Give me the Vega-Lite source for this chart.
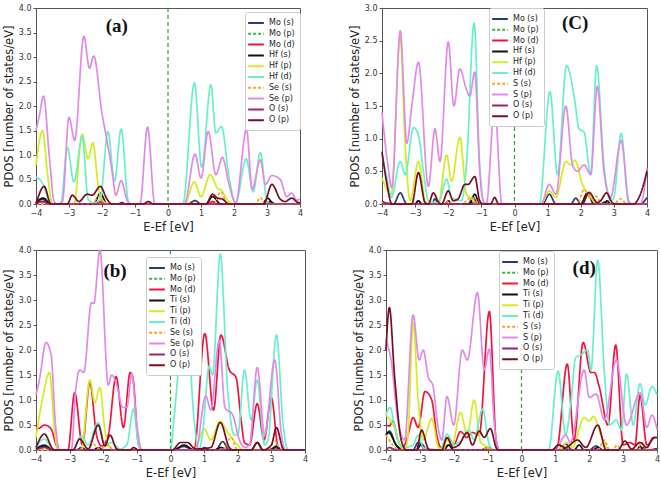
{
"$schema":"https://vega.github.io/schema/vega-lite/v6.json",
"background":"white",
"padding":{"left":2,"top":3,"right":2,"bottom":0},
"spacing":12,
"config":{
 "view":{"stroke":"#555"},
 "axis":{"labelFont":"DejaVu Sans","titleFont":"DejaVu Sans","labelFontSize":8,"titleFontSize":11.5,"titleFontWeight":"normal","labelColor":"#333","titleColor":"#222","domainColor":"#555","tickColor":"#555","grid":false,"tickSize":3,"labelPadding":2,"titlePadding":4,"labelOverlap":false,"labelFlush":false},
 "legend":{"labelFont":"DejaVu Sans","labelFontSize":8,"labelColor":"#222","symbolType":"M-1.7,0L1.7,0","symbolSize":85,"symbolStrokeWidth":2,"rowPadding":0.8,"padding":5,"fillColor":"white","strokeColor":"#cccccc","cornerRadius":2,"labelOffset":7}
},
"resolve":{"scale":{"color":"independent","strokeDash":"independent"}},
"vconcat":[
{"spacing":44,"resolve":{"scale":{"color":"independent","strokeDash":"independent"}},"hconcat":[
{"width":264,"height":196,"layer":[
{"data":{"values":[
{"s":"Mo (s)","x":-4,"y":0.02},{"s":"Mo (s)","x":-3.8,"y":0.1},{"s":"Mo (s)","x":-3.6,"y":0},{"s":"Mo (s)","x":-2.2,"y":0},{"s":"Mo (s)","x":-2.05,"y":0.05},{"s":"Mo (s)","x":-1.9,"y":0},{"s":"Mo (s)","x":-1.5,"y":0},{"s":"Mo (s)","x":-1.4,"y":0.03},{"s":"Mo (s)","x":-1.3,"y":0},{"s":"Mo (s)","x":0.6,"y":0},{"s":"Mo (s)","x":0.82,"y":0.07},{"s":"Mo (s)","x":1.0,"y":0},{"s":"Mo (s)","x":2.95,"y":0},{"s":"Mo (s)","x":3.1,"y":0.05},{"s":"Mo (s)","x":3.25,"y":0},{"s":"Mo (s)","x":4,"y":0},
{"s":"Mo (p)","x":-4,"y":0},{"s":"Mo (p)","x":4,"y":0},
{"s":"Mo (d)","x":-4,"y":0.02},{"s":"Mo (d)","x":-3.8,"y":0.05},{"s":"Mo (d)","x":-3.6,"y":0},{"s":"Mo (d)","x":-2.2,"y":0},{"s":"Mo (d)","x":-2.05,"y":0.05},{"s":"Mo (d)","x":-1.85,"y":0},{"s":"Mo (d)","x":1.2,"y":0},{"s":"Mo (d)","x":1.35,"y":0.05},{"s":"Mo (d)","x":1.5,"y":0},{"s":"Mo (d)","x":4,"y":0},
{"s":"Hf (s)","x":-4,"y":0.03},{"s":"Hf (s)","x":-3.78,"y":0.12},{"s":"Hf (s)","x":-3.55,"y":0},{"s":"Hf (s)","x":-2.25,"y":0},{"s":"Hf (s)","x":-2.05,"y":0.22},{"s":"Hf (s)","x":-1.85,"y":0},{"s":"Hf (s)","x":1.15,"y":0},{"s":"Hf (s)","x":1.35,"y":0.15},{"s":"Hf (s)","x":1.6,"y":0},{"s":"Hf (s)","x":2.85,"y":0},{"s":"Hf (s)","x":3.02,"y":0.12},{"s":"Hf (s)","x":3.2,"y":0},{"s":"Hf (s)","x":4,"y":0},
{"s":"Hf (p)","x":-4,"y":0.8},{"s":"Hf (p)","x":-3.8,"y":1.5},{"s":"Hf (p)","x":-3.65,"y":0.6},{"s":"Hf (p)","x":-3.5,"y":0},{"s":"Hf (p)","x":-2.85,"y":0},{"s":"Hf (p)","x":-2.6,"y":1.42},{"s":"Hf (p)","x":-2.42,"y":0.92},{"s":"Hf (p)","x":-2.28,"y":1.25},{"s":"Hf (p)","x":-2.1,"y":0.3},{"s":"Hf (p)","x":-1.95,"y":0.05},{"s":"Hf (p)","x":-1.8,"y":0},{"s":"Hf (p)","x":0.5,"y":0},{"s":"Hf (p)","x":0.8,"y":0.45},{"s":"Hf (p)","x":1.0,"y":0.15},{"s":"Hf (p)","x":1.28,"y":0.6},{"s":"Hf (p)","x":1.5,"y":0.32},{"s":"Hf (p)","x":1.62,"y":0.28},{"s":"Hf (p)","x":1.8,"y":0.08},{"s":"Hf (p)","x":2.0,"y":0},{"s":"Hf (p)","x":4,"y":0},
{"s":"Hf (d)","x":-4,"y":0.55},{"s":"Hf (d)","x":-3.8,"y":0.42},{"s":"Hf (d)","x":-3.65,"y":0.15},{"s":"Hf (d)","x":-3.5,"y":0},{"s":"Hf (d)","x":-3.25,"y":0},{"s":"Hf (d)","x":-3.05,"y":1.15},{"s":"Hf (d)","x":-2.85,"y":0.45},{"s":"Hf (d)","x":-2.6,"y":1.38},{"s":"Hf (d)","x":-2.42,"y":0.1},{"s":"Hf (d)","x":-2.25,"y":0.02},{"s":"Hf (d)","x":-2.05,"y":0.1},{"s":"Hf (d)","x":-1.82,"y":1.48},{"s":"Hf (d)","x":-1.62,"y":0.47},{"s":"Hf (d)","x":-1.42,"y":1.53},{"s":"Hf (d)","x":-1.2,"y":0.05},{"s":"Hf (d)","x":-1.1,"y":0},{"s":"Hf (d)","x":0.45,"y":0},{"s":"Hf (d)","x":0.8,"y":2.47},{"s":"Hf (d)","x":1.02,"y":0.75},{"s":"Hf (d)","x":1.3,"y":2.43},{"s":"Hf (d)","x":1.45,"y":1.45},{"s":"Hf (d)","x":1.62,"y":1.58},{"s":"Hf (d)","x":1.85,"y":0.55},{"s":"Hf (d)","x":2.05,"y":0.02},{"s":"Hf (d)","x":2.37,"y":0.92},{"s":"Hf (d)","x":2.58,"y":0.25},{"s":"Hf (d)","x":2.8,"y":1.05},{"s":"Hf (d)","x":3.0,"y":0.05},{"s":"Hf (d)","x":3.1,"y":0},{"s":"Hf (d)","x":4,"y":0},
{"s":"Se (s)","x":-4,"y":0},{"s":"Se (s)","x":-2.3,"y":0},{"s":"Se (s)","x":-2.1,"y":0.15},{"s":"Se (s)","x":-1.9,"y":0},{"s":"Se (s)","x":1.4,"y":0},{"s":"Se (s)","x":1.6,"y":0.25},{"s":"Se (s)","x":1.8,"y":0},{"s":"Se (s)","x":2.65,"y":0},{"s":"Se (s)","x":2.8,"y":0.13},{"s":"Se (s)","x":2.95,"y":0},{"s":"Se (s)","x":4,"y":0},
{"s":"Se (p)","x":-4,"y":1.5},{"s":"Se (p)","x":-3.9,"y":1.8},{"s":"Se (p)","x":-3.77,"y":2.2},{"s":"Se (p)","x":-3.6,"y":1.0},{"s":"Se (p)","x":-3.45,"y":0.05},{"s":"Se (p)","x":-3.35,"y":0},{"s":"Se (p)","x":-3.2,"y":0.05},{"s":"Se (p)","x":-3.0,"y":1.77},{"s":"Se (p)","x":-2.83,"y":1.3},{"s":"Se (p)","x":-2.55,"y":3.42},{"s":"Se (p)","x":-2.38,"y":2.77},{"s":"Se (p)","x":-2.25,"y":3.02},{"s":"Se (p)","x":-2.0,"y":1.85},{"s":"Se (p)","x":-1.85,"y":1.3},{"s":"Se (p)","x":-1.7,"y":0.7},{"s":"Se (p)","x":-1.58,"y":0.18},{"s":"Se (p)","x":-1.42,"y":0.48},{"s":"Se (p)","x":-1.25,"y":0.1},{"s":"Se (p)","x":-1.15,"y":0},{"s":"Se (p)","x":-0.85,"y":0},{"s":"Se (p)","x":-0.62,"y":1.57},{"s":"Se (p)","x":-0.4,"y":0},{"s":"Se (p)","x":0.5,"y":0},{"s":"Se (p)","x":0.82,"y":1.02},{"s":"Se (p)","x":1.0,"y":0.53},{"s":"Se (p)","x":1.22,"y":1.48},{"s":"Se (p)","x":1.45,"y":0.6},{"s":"Se (p)","x":1.65,"y":0.95},{"s":"Se (p)","x":1.85,"y":0.4},{"s":"Se (p)","x":2.05,"y":0.02},{"s":"Se (p)","x":2.38,"y":1.52},{"s":"Se (p)","x":2.55,"y":0.3},{"s":"Se (p)","x":2.8,"y":0.9},{"s":"Se (p)","x":2.95,"y":0.4},{"s":"Se (p)","x":3.15,"y":0.58},{"s":"Se (p)","x":3.4,"y":0.5},{"s":"Se (p)","x":3.6,"y":0.15},{"s":"Se (p)","x":3.75,"y":0.22},{"s":"Se (p)","x":3.9,"y":0.08},{"s":"Se (p)","x":4,"y":0.1},
{"s":"O (s)","x":-4,"y":0},{"s":"O (s)","x":-3.8,"y":0.05},{"s":"O (s)","x":-3.6,"y":0},{"s":"O (s)","x":4,"y":0},
{"s":"O (p)","x":-4,"y":0},{"s":"O (p)","x":-3.75,"y":0.36},{"s":"O (p)","x":-3.55,"y":0},{"s":"O (p)","x":-3.05,"y":0},{"s":"O (p)","x":-2.9,"y":0.18},{"s":"O (p)","x":-2.7,"y":0.05},{"s":"O (p)","x":-2.45,"y":0.2},{"s":"O (p)","x":-2.3,"y":0.18},{"s":"O (p)","x":-2.05,"y":0.36},{"s":"O (p)","x":-1.85,"y":0.1},{"s":"O (p)","x":-1.7,"y":0},{"s":"O (p)","x":-0.75,"y":0},{"s":"O (p)","x":-0.6,"y":0.05},{"s":"O (p)","x":-0.45,"y":0},{"s":"O (p)","x":1.15,"y":0},{"s":"O (p)","x":1.35,"y":0.2},{"s":"O (p)","x":1.5,"y":0.12},{"s":"O (p)","x":1.65,"y":0.1},{"s":"O (p)","x":1.85,"y":0},{"s":"O (p)","x":2.9,"y":0},{"s":"O (p)","x":3.15,"y":0.4},{"s":"O (p)","x":3.4,"y":0.1},{"s":"O (p)","x":3.55,"y":0.05},{"s":"O (p)","x":3.75,"y":0.12},{"s":"O (p)","x":3.95,"y":0.03},{"s":"O (p)","x":4,"y":0.03}
]},
"mark":{"type":"line","interpolate":"monotone","strokeWidth":1.7},
"encoding":{
"x":{"field":"x","type":"quantitative","scale":{"domain":[-4,4],"nice":false},"axis":{"title":"E-Ef [eV]","values":[-4,-3,-2,-1,0,1,2,3,4],"format":"d"}},
"y":{"field":"y","type":"quantitative","scale":{"domain":[0,4],"nice":false},"axis":{"title":"PDOS [number of states/eV]","values":[0,0.5,1,1.5,2,2.5,3,3.5,4],"format":".1f"}},
"color":{"field":"s","type":"nominal","sort":null,"scale":{"domain":["Mo (s)","Mo (p)","Mo (d)","Hf (s)","Hf (p)","Hf (d)","Se (s)","Se (p)","O (s)","O (p)"],"range":["#2a3c6b","#3cb44b","#f0143c","#111111","#d4ec1c","#68f0cc","#ffa31a","#e08ae8","#a0226e","#7a0c22"]},"legend":{"title":null,"orient":"none","legendX":209,"legendY":4}},
"strokeDash":{"field":"s","type":"nominal","sort":null,"scale":{"domain":["Mo (s)","Mo (p)","Mo (d)","Hf (s)","Hf (p)","Hf (d)","Se (s)","Se (p)","O (s)","O (p)"],"range":[[1,0],[3,2],[1,0],[1,0],[1,0],[1,0],[3,2],[1,0],[1,0],[1,0]]},"legend":{"title":null,"orient":"none","legendX":209,"legendY":4}}
}},
{"data":{"values":[{"x":0}]},"mark":{"type":"rule","color":"#2ca02c","strokeDash":[4,3],"strokeWidth":1.2},"encoding":{"x":{"field":"x","type":"quantitative","axis":{"title":"E-Ef [eV]","values":[-4,-3,-2,-1,0,1,2,3,4],"format":"d"}}}},
{"data":{"values":[{"x":-1.55,"y":3.63,"t":"(a)"}]},"mark":{"type":"text","font":"Liberation Serif","fontWeight":"bold","fontSize":19,"color":"#111"},"encoding":{"x":{"field":"x","type":"quantitative","axis":{"title":"E-Ef [eV]","values":[-4,-3,-2,-1,0,1,2,3,4],"format":"d"}},"y":{"field":"y","type":"quantitative","axis":{"title":"PDOS [number of states/eV]","values":[0,0.5,1,1.5,2,2.5,3,3.5,4],"format":".1f"}},"text":{"field":"t"}}}
]},
{"width":265,"height":196,"layer":[
{"data":{"values":[
{"s":"Mo (s)","x":-4,"y":0},{"s":"Mo (s)","x":-3.65,"y":0},{"s":"Mo (s)","x":-3.45,"y":0.17},{"s":"Mo (s)","x":-3.25,"y":0},{"s":"Mo (s)","x":-3.0,"y":0},{"s":"Mo (s)","x":-2.9,"y":0.05},{"s":"Mo (s)","x":-2.8,"y":0},{"s":"Mo (s)","x":-2.5,"y":0},{"s":"Mo (s)","x":-2.4,"y":0.08},{"s":"Mo (s)","x":-2.3,"y":0},{"s":"Mo (s)","x":-1.4,"y":0},{"s":"Mo (s)","x":-1.25,"y":0.1},{"s":"Mo (s)","x":-1.1,"y":0},{"s":"Mo (s)","x":0.85,"y":0},{"s":"Mo (s)","x":1.05,"y":0.15},{"s":"Mo (s)","x":1.25,"y":0},{"s":"Mo (s)","x":1.7,"y":0},{"s":"Mo (s)","x":1.85,"y":0.09},{"s":"Mo (s)","x":2.0,"y":0},{"s":"Mo (s)","x":2.6,"y":0},{"s":"Mo (s)","x":2.72,"y":0.03},{"s":"Mo (s)","x":2.85,"y":0},{"s":"Mo (s)","x":3.8,"y":0},{"s":"Mo (s)","x":4,"y":0.1},
{"s":"Mo (p)","x":-4,"y":0},{"s":"Mo (p)","x":4,"y":0},
{"s":"Mo (d)","x":-4,"y":0.02},{"s":"Mo (d)","x":-3.9,"y":0},{"s":"Mo (d)","x":-1.4,"y":0},{"s":"Mo (d)","x":-1.2,"y":0.03},{"s":"Mo (d)","x":-1.0,"y":0},{"s":"Mo (d)","x":4,"y":0},
{"s":"Hf (s)","x":-4,"y":0.02},{"s":"Hf (s)","x":-3.5,"y":0},{"s":"Hf (s)","x":-3.0,"y":0},{"s":"Hf (s)","x":-2.9,"y":0.05},{"s":"Hf (s)","x":-2.8,"y":0},{"s":"Hf (s)","x":-2.1,"y":0},{"s":"Hf (s)","x":-2.0,"y":0.05},{"s":"Hf (s)","x":-1.9,"y":0},{"s":"Hf (s)","x":-1.35,"y":0},{"s":"Hf (s)","x":-1.2,"y":0.15},{"s":"Hf (s)","x":-1.05,"y":0},{"s":"Hf (s)","x":2.0,"y":0},{"s":"Hf (s)","x":2.2,"y":0.17},{"s":"Hf (s)","x":2.4,"y":0},{"s":"Hf (s)","x":2.7,"y":0},{"s":"Hf (s)","x":2.8,"y":0.05},{"s":"Hf (s)","x":2.9,"y":0},{"s":"Hf (s)","x":4,"y":0},
{"s":"Hf (p)","x":-4,"y":0.4},{"s":"Hf (p)","x":-3.72,"y":0.15},{"s":"Hf (p)","x":-3.45,"y":2.55},{"s":"Hf (p)","x":-3.3,"y":0.9},{"s":"Hf (p)","x":-3.15,"y":0.05},{"s":"Hf (p)","x":-2.9,"y":0.65},{"s":"Hf (p)","x":-2.7,"y":0.05},{"s":"Hf (p)","x":-2.6,"y":0},{"s":"Hf (p)","x":-2.3,"y":0},{"s":"Hf (p)","x":-2.05,"y":0.75},{"s":"Hf (p)","x":-1.9,"y":0.35},{"s":"Hf (p)","x":-1.65,"y":1.02},{"s":"Hf (p)","x":-1.45,"y":0.15},{"s":"Hf (p)","x":-1.3,"y":0.08},{"s":"Hf (p)","x":-1.15,"y":0},{"s":"Hf (p)","x":0.8,"y":0},{"s":"Hf (p)","x":1.05,"y":0.2},{"s":"Hf (p)","x":1.25,"y":0.1},{"s":"Hf (p)","x":1.55,"y":0.65},{"s":"Hf (p)","x":1.7,"y":0.6},{"s":"Hf (p)","x":1.82,"y":0.67},{"s":"Hf (p)","x":2.05,"y":0.3},{"s":"Hf (p)","x":2.3,"y":0.1},{"s":"Hf (p)","x":2.5,"y":0},{"s":"Hf (p)","x":4,"y":0},
{"s":"Hf (d)","x":-4,"y":0.75},{"s":"Hf (d)","x":-3.85,"y":0.4},{"s":"Hf (d)","x":-3.72,"y":0.1},{"s":"Hf (d)","x":-3.45,"y":0.65},{"s":"Hf (d)","x":-3.3,"y":0.45},{"s":"Hf (d)","x":-3.05,"y":1.17},{"s":"Hf (d)","x":-2.9,"y":1.05},{"s":"Hf (d)","x":-2.75,"y":0.5},{"s":"Hf (d)","x":-2.6,"y":0.05},{"s":"Hf (d)","x":-2.3,"y":0.02},{"s":"Hf (d)","x":-2.05,"y":0.38},{"s":"Hf (d)","x":-1.9,"y":0.1},{"s":"Hf (d)","x":-1.6,"y":0.05},{"s":"Hf (d)","x":-1.45,"y":0.6},{"s":"Hf (d)","x":-1.22,"y":2.77},{"s":"Hf (d)","x":-1.05,"y":0.6},{"s":"Hf (d)","x":-0.9,"y":0},{"s":"Hf (d)","x":0.75,"y":0},{"s":"Hf (d)","x":1.07,"y":1.72},{"s":"Hf (d)","x":1.3,"y":0.45},{"s":"Hf (d)","x":1.57,"y":2.12},{"s":"Hf (d)","x":1.8,"y":1.65},{"s":"Hf (d)","x":1.95,"y":1.15},{"s":"Hf (d)","x":2.1,"y":1.1},{"s":"Hf (d)","x":2.3,"y":0.45},{"s":"Hf (d)","x":2.48,"y":2.12},{"s":"Hf (d)","x":2.7,"y":0.6},{"s":"Hf (d)","x":2.9,"y":0.05},{"s":"Hf (d)","x":3.0,"y":0.1},{"s":"Hf (d)","x":3.22,"y":1.08},{"s":"Hf (d)","x":3.45,"y":0},{"s":"Hf (d)","x":4,"y":0},
{"s":"S (s)","x":-4,"y":0.03},{"s":"S (s)","x":-3.8,"y":0},{"s":"S (s)","x":-2.1,"y":0},{"s":"S (s)","x":-2.0,"y":0.05},{"s":"S (s)","x":-1.85,"y":0},{"s":"S (s)","x":-1.6,"y":0},{"s":"S (s)","x":-1.3,"y":0.1},{"s":"S (s)","x":-1.1,"y":0.02},{"s":"S (s)","x":-1.0,"y":0},{"s":"S (s)","x":1.9,"y":0},{"s":"S (s)","x":2.1,"y":0.22},{"s":"S (s)","x":2.3,"y":0.08},{"s":"S (s)","x":2.45,"y":0.12},{"s":"S (s)","x":2.65,"y":0},{"s":"S (s)","x":3.0,"y":0},{"s":"S (s)","x":3.2,"y":0.08},{"s":"S (s)","x":3.4,"y":0},{"s":"S (s)","x":4,"y":0},
{"s":"S (p)","x":-4,"y":1.4},{"s":"S (p)","x":-3.85,"y":0.7},{"s":"S (p)","x":-3.7,"y":0.25},{"s":"S (p)","x":-3.45,"y":2.65},{"s":"S (p)","x":-3.25,"y":0.93},{"s":"S (p)","x":-3.1,"y":1.5},{"s":"S (p)","x":-2.9,"y":2.17},{"s":"S (p)","x":-2.6,"y":0.27},{"s":"S (p)","x":-2.4,"y":1.15},{"s":"S (p)","x":-2.25,"y":0.65},{"s":"S (p)","x":-2.0,"y":2.48},{"s":"S (p)","x":-1.83,"y":1.5},{"s":"S (p)","x":-1.65,"y":2.07},{"s":"S (p)","x":-1.45,"y":1.75},{"s":"S (p)","x":-1.35,"y":1.65},{"s":"S (p)","x":-1.2,"y":2.02},{"s":"S (p)","x":-1.05,"y":0.5},{"s":"S (p)","x":-0.95,"y":0.05},{"s":"S (p)","x":-0.85,"y":0},{"s":"S (p)","x":-0.6,"y":1.5},{"s":"S (p)","x":-0.38,"y":0},{"s":"S (p)","x":0.8,"y":0},{"s":"S (p)","x":1.05,"y":0.3},{"s":"S (p)","x":1.25,"y":0.15},{"s":"S (p)","x":1.55,"y":1.5},{"s":"S (p)","x":1.75,"y":0.6},{"s":"S (p)","x":1.9,"y":0.5},{"s":"S (p)","x":2.1,"y":0.6},{"s":"S (p)","x":2.3,"y":0.45},{"s":"S (p)","x":2.5,"y":1.8},{"s":"S (p)","x":2.7,"y":0.5},{"s":"S (p)","x":2.9,"y":0.1},{"s":"S (p)","x":3.22,"y":0.97},{"s":"S (p)","x":3.45,"y":0.05},{"s":"S (p)","x":3.55,"y":0},{"s":"S (p)","x":3.8,"y":0},{"s":"S (p)","x":4,"y":0.55},
{"s":"O (s)","x":-4,"y":0.05},{"s":"O (s)","x":-3.8,"y":0},{"s":"O (s)","x":4,"y":0},
{"s":"O (p)","x":-4,"y":0.8},{"s":"O (p)","x":-3.85,"y":0.3},{"s":"O (p)","x":-3.7,"y":0},{"s":"O (p)","x":-3.1,"y":0},{"s":"O (p)","x":-2.9,"y":0.48},{"s":"O (p)","x":-2.7,"y":0.02},{"s":"O (p)","x":-2.6,"y":0},{"s":"O (p)","x":-2.45,"y":0.17},{"s":"O (p)","x":-2.28,"y":0.02},{"s":"O (p)","x":-2.2,"y":0},{"s":"O (p)","x":-2.0,"y":0.2},{"s":"O (p)","x":-1.85,"y":0.05},{"s":"O (p)","x":-1.7,"y":0.08},{"s":"O (p)","x":-1.5,"y":0.3},{"s":"O (p)","x":-1.4,"y":0.3},{"s":"O (p)","x":-1.2,"y":0.42},{"s":"O (p)","x":-1.05,"y":0.05},{"s":"O (p)","x":-0.95,"y":0},{"s":"O (p)","x":-0.72,"y":0},{"s":"O (p)","x":-0.6,"y":0.1},{"s":"O (p)","x":-0.48,"y":0},{"s":"O (p)","x":2.05,"y":0},{"s":"O (p)","x":2.25,"y":0.18},{"s":"O (p)","x":2.5,"y":0.02},{"s":"O (p)","x":2.6,"y":0.05},{"s":"O (p)","x":2.78,"y":0.17},{"s":"O (p)","x":2.95,"y":0.02},{"s":"O (p)","x":3.05,"y":0},{"s":"O (p)","x":3.6,"y":0},{"s":"O (p)","x":3.8,"y":0.15},{"s":"O (p)","x":4,"y":0.5}
]},
"mark":{"type":"line","interpolate":"monotone","strokeWidth":1.7},
"encoding":{
"x":{"field":"x","type":"quantitative","scale":{"domain":[-4,4],"nice":false},"axis":{"title":"E-Ef [eV]","values":[-4,-3,-2,-1,0,1,2,3,4],"format":"d"}},
"y":{"field":"y","type":"quantitative","scale":{"domain":[0,3],"nice":false},"axis":{"title":"PDOS [number of states/eV]","values":[0,0.5,1,1.5,2,2.5,3],"format":".1f"}},
"color":{"field":"s","type":"nominal","sort":null,"scale":{"domain":["Mo (s)","Mo (p)","Mo (d)","Hf (s)","Hf (p)","Hf (d)","S (s)","S (p)","O (s)","O (p)"],"range":["#2a3c6b","#3cb44b","#f0143c","#111111","#d4ec1c","#68f0cc","#ffa31a","#e08ae8","#a0226e","#7a0c22"]},"legend":{"title":null,"orient":"none","legendX":107,"legendY":0}},
"strokeDash":{"field":"s","type":"nominal","sort":null,"scale":{"domain":["Mo (s)","Mo (p)","Mo (d)","Hf (s)","Hf (p)","Hf (d)","S (s)","S (p)","O (s)","O (p)"],"range":[[1,0],[3,2],[1,0],[1,0],[1,0],[1,0],[3,2],[1,0],[1,0],[1,0]]},"legend":{"title":null,"orient":"none","legendX":107,"legendY":0}}
}},
{"data":{"values":[{"x":0}]},"mark":{"type":"rule","color":"#2ca02c","strokeDash":[4,3],"strokeWidth":1.2},"encoding":{"x":{"field":"x","type":"quantitative","axis":{"title":"E-Ef [eV]","values":[-4,-3,-2,-1,0,1,2,3,4],"format":"d"}}}},
{"data":{"values":[{"x":1.83,"y":2.77,"t":"(C)"}]},"mark":{"type":"text","font":"Liberation Serif","fontWeight":"bold","fontSize":19,"color":"#111"},"encoding":{"x":{"field":"x","type":"quantitative","axis":{"title":"E-Ef [eV]","values":[-4,-3,-2,-1,0,1,2,3,4],"format":"d"}},"y":{"field":"y","type":"quantitative","axis":{"title":"PDOS [number of states/eV]","values":[0,0.5,1,1.5,2,2.5,3],"format":".1f"}},"text":{"field":"t"}}}
]}
]},
{"spacing":43,"resolve":{"scale":{"color":"independent","strokeDash":"independent"}},"hconcat":[
{"width":269,"height":200,"layer":[
{"data":{"values":[
{"s":"Mo (s)","x":-4,"y":0.03},{"s":"Mo (s)","x":-3.75,"y":0.1},{"s":"Mo (s)","x":-3.5,"y":0},{"s":"Mo (s)","x":-2.8,"y":0},{"s":"Mo (s)","x":-2.65,"y":0.05},{"s":"Mo (s)","x":-2.5,"y":0},{"s":"Mo (s)","x":0.05,"y":0},{"s":"Mo (s)","x":0.4,"y":0.07},{"s":"Mo (s)","x":0.7,"y":0},{"s":"Mo (s)","x":0.9,"y":0},{"s":"Mo (s)","x":1.0,"y":0.05},{"s":"Mo (s)","x":1.15,"y":0},{"s":"Mo (s)","x":1.35,"y":0},{"s":"Mo (s)","x":1.55,"y":0.17},{"s":"Mo (s)","x":1.75,"y":0},{"s":"Mo (s)","x":2.9,"y":0},{"s":"Mo (s)","x":3.1,"y":0.05},{"s":"Mo (s)","x":3.3,"y":0},{"s":"Mo (s)","x":4,"y":0},
{"s":"Mo (p)","x":-4,"y":0},{"s":"Mo (p)","x":4,"y":0},
{"s":"Mo (d)","x":-4,"y":0.5},{"s":"Mo (d)","x":-3.92,"y":0.43},{"s":"Mo (d)","x":-3.75,"y":0.5},{"s":"Mo (d)","x":-3.55,"y":0.42},{"s":"Mo (d)","x":-3.4,"y":0.1},{"s":"Mo (d)","x":-3.3,"y":0},{"s":"Mo (d)","x":-3.05,"y":0},{"s":"Mo (d)","x":-2.85,"y":1.15},{"s":"Mo (d)","x":-2.62,"y":0.1},{"s":"Mo (d)","x":-2.4,"y":1.35},{"s":"Mo (d)","x":-2.2,"y":0.3},{"s":"Mo (d)","x":-2.05,"y":0.08},{"s":"Mo (d)","x":-1.85,"y":0.3},{"s":"Mo (d)","x":-1.62,"y":1.47},{"s":"Mo (d)","x":-1.4,"y":0.45},{"s":"Mo (d)","x":-1.2,"y":1.55},{"s":"Mo (d)","x":-1.12,"y":1.45},{"s":"Mo (d)","x":-0.95,"y":0.1},{"s":"Mo (d)","x":-0.85,"y":0},{"s":"Mo (d)","x":0.7,"y":0},{"s":"Mo (d)","x":1.02,"y":2.33},{"s":"Mo (d)","x":1.28,"y":0.8},{"s":"Mo (d)","x":1.5,"y":2.3},{"s":"Mo (d)","x":1.75,"y":1.6},{"s":"Mo (d)","x":1.95,"y":1.45},{"s":"Mo (d)","x":2.1,"y":0.6},{"s":"Mo (d)","x":2.2,"y":0.15},{"s":"Mo (d)","x":2.35,"y":0.1},{"s":"Mo (d)","x":2.58,"y":0.93},{"s":"Mo (d)","x":2.78,"y":0.2},{"s":"Mo (d)","x":3.0,"y":1.05},{"s":"Mo (d)","x":3.2,"y":0.05},{"s":"Mo (d)","x":3.3,"y":0},{"s":"Mo (d)","x":4,"y":0},
{"s":"Ti (s)","x":-4,"y":0.02},{"s":"Ti (s)","x":-3.75,"y":0.08},{"s":"Ti (s)","x":-3.5,"y":0},{"s":"Ti (s)","x":-2.3,"y":0},{"s":"Ti (s)","x":-2.15,"y":0.05},{"s":"Ti (s)","x":-2.0,"y":0},{"s":"Ti (s)","x":0.1,"y":0},{"s":"Ti (s)","x":0.4,"y":0.1},{"s":"Ti (s)","x":0.7,"y":0},{"s":"Ti (s)","x":1.3,"y":0},{"s":"Ti (s)","x":1.5,"y":0.05},{"s":"Ti (s)","x":1.7,"y":0},{"s":"Ti (s)","x":2.4,"y":0},{"s":"Ti (s)","x":2.58,"y":0.15},{"s":"Ti (s)","x":2.75,"y":0},{"s":"Ti (s)","x":3.0,"y":0},{"s":"Ti (s)","x":3.15,"y":0.08},{"s":"Ti (s)","x":3.3,"y":0},{"s":"Ti (s)","x":4,"y":0},
{"s":"Ti (p)","x":-4,"y":0.25},{"s":"Ti (p)","x":-3.8,"y":1.05},{"s":"Ti (p)","x":-3.6,"y":1.55},{"s":"Ti (p)","x":-3.45,"y":0.4},{"s":"Ti (p)","x":-3.35,"y":0},{"s":"Ti (p)","x":-2.65,"y":0},{"s":"Ti (p)","x":-2.4,"y":1.4},{"s":"Ti (p)","x":-2.25,"y":0.95},{"s":"Ti (p)","x":-2.1,"y":1.25},{"s":"Ti (p)","x":-1.95,"y":0.4},{"s":"Ti (p)","x":-1.85,"y":0.1},{"s":"Ti (p)","x":-1.7,"y":0},{"s":"Ti (p)","x":0.7,"y":0},{"s":"Ti (p)","x":1.0,"y":0.42},{"s":"Ti (p)","x":1.2,"y":0.2},{"s":"Ti (p)","x":1.48,"y":0.58},{"s":"Ti (p)","x":1.7,"y":0.35},{"s":"Ti (p)","x":2.0,"y":0.1},{"s":"Ti (p)","x":2.15,"y":0},{"s":"Ti (p)","x":4,"y":0},
{"s":"Ti (d)","x":-4,"y":0.05},{"s":"Ti (d)","x":-3.75,"y":0.22},{"s":"Ti (d)","x":-3.55,"y":0.05},{"s":"Ti (d)","x":-3.45,"y":0},{"s":"Ti (d)","x":-2.9,"y":0},{"s":"Ti (d)","x":-2.65,"y":0.28},{"s":"Ti (d)","x":-2.45,"y":0.1},{"s":"Ti (d)","x":-2.15,"y":0.55},{"s":"Ti (d)","x":-1.95,"y":0.1},{"s":"Ti (d)","x":-1.75,"y":0.15},{"s":"Ti (d)","x":-1.5,"y":0.02},{"s":"Ti (d)","x":-1.3,"y":0.1},{"s":"Ti (d)","x":-1.1,"y":0.82},{"s":"Ti (d)","x":-0.95,"y":0.1},{"s":"Ti (d)","x":-0.85,"y":0},{"s":"Ti (d)","x":0.0,"y":0},{"s":"Ti (d)","x":0.1,"y":0.6},{"s":"Ti (d)","x":0.3,"y":1.8},{"s":"Ti (d)","x":0.42,"y":1.72},{"s":"Ti (d)","x":0.55,"y":1.85},{"s":"Ti (d)","x":0.7,"y":0.6},{"s":"Ti (d)","x":0.85,"y":0},{"s":"Ti (d)","x":0.95,"y":0.3},{"s":"Ti (d)","x":1.15,"y":1.68},{"s":"Ti (d)","x":1.25,"y":1.5},{"s":"Ti (d)","x":1.48,"y":3.92},{"s":"Ti (d)","x":1.7,"y":1.2},{"s":"Ti (d)","x":1.9,"y":0.3},{"s":"Ti (d)","x":2.0,"y":0.3},{"s":"Ti (d)","x":2.2,"y":1.6},{"s":"Ti (d)","x":2.4,"y":0.6},{"s":"Ti (d)","x":2.58,"y":1.4},{"s":"Ti (d)","x":2.8,"y":0.1},{"s":"Ti (d)","x":2.9,"y":0.2},{"s":"Ti (d)","x":3.15,"y":2.3},{"s":"Ti (d)","x":3.35,"y":0.5},{"s":"Ti (d)","x":3.5,"y":0},{"s":"Ti (d)","x":4,"y":0},
{"s":"Se (s)","x":-4,"y":0},{"s":"Se (s)","x":-2.5,"y":0},{"s":"Se (s)","x":-2.3,"y":0.12},{"s":"Se (s)","x":-2.1,"y":0.02},{"s":"Se (s)","x":-1.85,"y":0.1},{"s":"Se (s)","x":-1.7,"y":0},{"s":"Se (s)","x":1.55,"y":0},{"s":"Se (s)","x":1.8,"y":0.25},{"s":"Se (s)","x":2.0,"y":0},{"s":"Se (s)","x":2.9,"y":0},{"s":"Se (s)","x":3.1,"y":0.18},{"s":"Se (s)","x":3.3,"y":0},{"s":"Se (s)","x":4,"y":0},
{"s":"Se (p)","x":-4,"y":1.1},{"s":"Se (p)","x":-3.9,"y":1.4},{"s":"Se (p)","x":-3.7,"y":2.15},{"s":"Se (p)","x":-3.55,"y":1.9},{"s":"Se (p)","x":-3.42,"y":0.5},{"s":"Se (p)","x":-3.3,"y":0},{"s":"Se (p)","x":-2.95,"y":0},{"s":"Se (p)","x":-2.82,"y":1.2},{"s":"Se (p)","x":-2.7,"y":1.6},{"s":"Se (p)","x":-2.58,"y":1.55},{"s":"Se (p)","x":-2.35,"y":2.95},{"s":"Se (p)","x":-2.28,"y":2.93},{"s":"Se (p)","x":-2.1,"y":4.0},{"s":"Se (p)","x":-1.85,"y":1.3},{"s":"Se (p)","x":-1.75,"y":1.5},{"s":"Se (p)","x":-1.6,"y":1.3},{"s":"Se (p)","x":-1.42,"y":0.85},{"s":"Se (p)","x":-1.3,"y":0.85},{"s":"Se (p)","x":-1.15,"y":1.52},{"s":"Se (p)","x":-1.0,"y":0.5},{"s":"Se (p)","x":-0.85,"y":0},{"s":"Se (p)","x":0.75,"y":0},{"s":"Se (p)","x":1.05,"y":1.08},{"s":"Se (p)","x":1.2,"y":0.8},{"s":"Se (p)","x":1.45,"y":2.2},{"s":"Se (p)","x":1.62,"y":0.85},{"s":"Se (p)","x":1.85,"y":0.7},{"s":"Se (p)","x":2.05,"y":0.2},{"s":"Se (p)","x":2.2,"y":0.05},{"s":"Se (p)","x":2.35,"y":0.1},{"s":"Se (p)","x":2.58,"y":1.65},{"s":"Se (p)","x":2.8,"y":0.3},{"s":"Se (p)","x":3.1,"y":1.8},{"s":"Se (p)","x":3.3,"y":0.3},{"s":"Se (p)","x":3.42,"y":0},{"s":"Se (p)","x":4,"y":0},
{"s":"O (s)","x":-4,"y":0},{"s":"O (s)","x":-3.75,"y":0.05},{"s":"O (s)","x":-3.5,"y":0},{"s":"O (s)","x":4,"y":0},
{"s":"O (p)","x":-4,"y":0.05},{"s":"O (p)","x":-3.75,"y":0.32},{"s":"O (p)","x":-3.5,"y":0.02},{"s":"O (p)","x":-3.45,"y":0},{"s":"O (p)","x":-2.9,"y":0},{"s":"O (p)","x":-2.7,"y":0.22},{"s":"O (p)","x":-2.45,"y":0.02},{"s":"O (p)","x":-2.15,"y":0.5},{"s":"O (p)","x":-1.95,"y":0.08},{"s":"O (p)","x":-1.8,"y":0.3},{"s":"O (p)","x":-1.6,"y":0.02},{"s":"O (p)","x":-1.5,"y":0},{"s":"O (p)","x":-1.2,"y":0},{"s":"O (p)","x":-1.1,"y":0.05},{"s":"O (p)","x":-0.95,"y":0},{"s":"O (p)","x":0.05,"y":0},{"s":"O (p)","x":0.3,"y":0.15},{"s":"O (p)","x":0.5,"y":0.15},{"s":"O (p)","x":0.75,"y":0.02},{"s":"O (p)","x":1.2,"y":0.05},{"s":"O (p)","x":1.48,"y":0.55},{"s":"O (p)","x":1.75,"y":0.05},{"s":"O (p)","x":1.85,"y":0},{"s":"O (p)","x":2.4,"y":0},{"s":"O (p)","x":2.58,"y":0.15},{"s":"O (p)","x":2.75,"y":0},{"s":"O (p)","x":3.0,"y":0.1},{"s":"O (p)","x":3.15,"y":0.45},{"s":"O (p)","x":3.35,"y":0.02},{"s":"O (p)","x":3.4,"y":0},{"s":"O (p)","x":4,"y":0}
]},
"mark":{"type":"line","interpolate":"monotone","strokeWidth":1.7},
"encoding":{
"x":{"field":"x","type":"quantitative","scale":{"domain":[-4,4],"nice":false},"axis":{"title":"E-Ef [eV]","values":[-4,-3,-2,-1,0,1,2,3,4],"format":"d"}},
"y":{"field":"y","type":"quantitative","scale":{"domain":[0,4],"nice":false},"axis":{"title":"PDOS [number of states/eV]","values":[0,0.5,1,1.5,2,2.5,3,3.5,4],"format":".1f"}},
"color":{"field":"s","type":"nominal","sort":null,"scale":{"domain":["Mo (s)","Mo (p)","Mo (d)","Ti (s)","Ti (p)","Ti (d)","Se (s)","Se (p)","O (s)","O (p)"],"range":["#2a3c6b","#3cb44b","#f0143c","#111111","#d4ec1c","#68f0cc","#ffa31a","#e08ae8","#a0226e","#7a0c22"]},"legend":{"title":null,"orient":"none","legendX":110,"legendY":7}},
"strokeDash":{"field":"s","type":"nominal","sort":null,"scale":{"domain":["Mo (s)","Mo (p)","Mo (d)","Ti (s)","Ti (p)","Ti (d)","Se (s)","Se (p)","O (s)","O (p)"],"range":[[1,0],[3,2],[1,0],[1,0],[1,0],[1,0],[3,2],[1,0],[1,0],[1,0]]},"legend":{"title":null,"orient":"none","legendX":110,"legendY":7}}
}},
{"data":{"values":[{"x":0}]},"mark":{"type":"rule","color":"#2ca02c","strokeDash":[4,3],"strokeWidth":1.2},"encoding":{"x":{"field":"x","type":"quantitative","axis":{"title":"E-Ef [eV]","values":[-4,-3,-2,-1,0,1,2,3,4],"format":"d"}}}},
{"data":{"values":[{"x":-1.65,"y":3.58,"t":"(b)"}]},"mark":{"type":"text","font":"Liberation Serif","fontWeight":"bold","fontSize":19,"color":"#111"},"encoding":{"x":{"field":"x","type":"quantitative","axis":{"title":"E-Ef [eV]","values":[-4,-3,-2,-1,0,1,2,3,4],"format":"d"}},"y":{"field":"y","type":"quantitative","axis":{"title":"PDOS [number of states/eV]","values":[0,0.5,1,1.5,2,2.5,3,3.5,4],"format":".1f"}},"text":{"field":"t"}}}
]},
{"width":271,"height":200,"layer":[
{"data":{"values":[
{"s":"Mo (s)","x":-4,"y":0.3},{"s":"Mo (s)","x":-3.9,"y":0.38},{"s":"Mo (s)","x":-3.7,"y":0.1},{"s":"Mo (s)","x":-3.5,"y":0},{"s":"Mo (s)","x":-3.2,"y":0},{"s":"Mo (s)","x":-3.05,"y":0.15},{"s":"Mo (s)","x":-2.85,"y":0.02},{"s":"Mo (s)","x":-2.3,"y":0},{"s":"Mo (s)","x":-2.15,"y":0.1},{"s":"Mo (s)","x":-2.0,"y":0},{"s":"Mo (s)","x":1.1,"y":0},{"s":"Mo (s)","x":1.3,"y":0.12},{"s":"Mo (s)","x":1.5,"y":0},{"s":"Mo (s)","x":2.0,"y":0},{"s":"Mo (s)","x":2.2,"y":0.08},{"s":"Mo (s)","x":2.4,"y":0},{"s":"Mo (s)","x":3.5,"y":0},{"s":"Mo (s)","x":3.6,"y":0.05},{"s":"Mo (s)","x":3.7,"y":0},{"s":"Mo (s)","x":4,"y":0.03},
{"s":"Mo (p)","x":-4,"y":0},{"s":"Mo (p)","x":4,"y":0},
{"s":"Mo (d)","x":-4,"y":0.5},{"s":"Mo (d)","x":-3.9,"y":0.48},{"s":"Mo (d)","x":-3.8,"y":0.58},{"s":"Mo (d)","x":-3.65,"y":0.2},{"s":"Mo (d)","x":-3.5,"y":0.05},{"s":"Mo (d)","x":-3.35,"y":0.3},{"s":"Mo (d)","x":-3.2,"y":0.65},{"s":"Mo (d)","x":-3.05,"y":0.45},{"s":"Mo (d)","x":-2.85,"y":1.17},{"s":"Mo (d)","x":-2.65,"y":1.0},{"s":"Mo (d)","x":-2.5,"y":0.3},{"s":"Mo (d)","x":-2.38,"y":0.05},{"s":"Mo (d)","x":-2.15,"y":0.25},{"s":"Mo (d)","x":-2.0,"y":0.1},{"s":"Mo (d)","x":-1.8,"y":0.37},{"s":"Mo (d)","x":-1.62,"y":0.25},{"s":"Mo (d)","x":-1.45,"y":0.35},{"s":"Mo (d)","x":-1.25,"y":0.3},{"s":"Mo (d)","x":-0.95,"y":2.77},{"s":"Mo (d)","x":-0.75,"y":0.2},{"s":"Mo (d)","x":-0.65,"y":0},{"s":"Mo (d)","x":0.9,"y":0},{"s":"Mo (d)","x":1.05,"y":0.05},{"s":"Mo (d)","x":1.35,"y":1.72},{"s":"Mo (d)","x":1.55,"y":0.2},{"s":"Mo (d)","x":1.82,"y":2.15},{"s":"Mo (d)","x":2.05,"y":1.55},{"s":"Mo (d)","x":2.15,"y":1.55},{"s":"Mo (d)","x":2.3,"y":1.25},{"s":"Mo (d)","x":2.55,"y":0.5},{"s":"Mo (d)","x":2.78,"y":2.1},{"s":"Mo (d)","x":3.0,"y":0.1},{"s":"Mo (d)","x":3.2,"y":0.15},{"s":"Mo (d)","x":3.35,"y":0.1},{"s":"Mo (d)","x":3.5,"y":1.1},{"s":"Mo (d)","x":3.7,"y":0.1},{"s":"Mo (d)","x":3.95,"y":0.25},{"s":"Mo (d)","x":4,"y":0.25},
{"s":"Ti (s)","x":-4,"y":0.3},{"s":"Ti (s)","x":-3.92,"y":0.35},{"s":"Ti (s)","x":-3.7,"y":0.1},{"s":"Ti (s)","x":-3.5,"y":0},{"s":"Ti (s)","x":-3.1,"y":0},{"s":"Ti (s)","x":-2.95,"y":0.12},{"s":"Ti (s)","x":-2.8,"y":0},{"s":"Ti (s)","x":-2.3,"y":0},{"s":"Ti (s)","x":-2.15,"y":0.1},{"s":"Ti (s)","x":-2.0,"y":0},{"s":"Ti (s)","x":-1.2,"y":0},{"s":"Ti (s)","x":-1.0,"y":0.05},{"s":"Ti (s)","x":-0.85,"y":0},{"s":"Ti (s)","x":0.9,"y":0},{"s":"Ti (s)","x":1.1,"y":0.1},{"s":"Ti (s)","x":1.3,"y":0.02},{"s":"Ti (s)","x":1.55,"y":0},{"s":"Ti (s)","x":1.7,"y":0.1},{"s":"Ti (s)","x":1.85,"y":0},{"s":"Ti (s)","x":2.1,"y":0},{"s":"Ti (s)","x":2.25,"y":0.05},{"s":"Ti (s)","x":2.4,"y":0},{"s":"Ti (s)","x":3.4,"y":0},{"s":"Ti (s)","x":3.5,"y":0.08},{"s":"Ti (s)","x":3.6,"y":0},{"s":"Ti (s)","x":4,"y":0},
{"s":"Ti (p)","x":-4,"y":0.7},{"s":"Ti (p)","x":-3.75,"y":0.45},{"s":"Ti (p)","x":-3.55,"y":0.05},{"s":"Ti (p)","x":-3.45,"y":0},{"s":"Ti (p)","x":-3.35,"y":0.3},{"s":"Ti (p)","x":-3.2,"y":2.55},{"s":"Ti (p)","x":-3.05,"y":1.0},{"s":"Ti (p)","x":-2.9,"y":0.2},{"s":"Ti (p)","x":-2.65,"y":0.63},{"s":"Ti (p)","x":-2.45,"y":0.05},{"s":"Ti (p)","x":-2.3,"y":0.02},{"s":"Ti (p)","x":-2.2,"y":0.2},{"s":"Ti (p)","x":-2.05,"y":0.1},{"s":"Ti (p)","x":-1.8,"y":0.75},{"s":"Ti (p)","x":-1.6,"y":0.3},{"s":"Ti (p)","x":-1.4,"y":1.0},{"s":"Ti (p)","x":-1.2,"y":0.15},{"s":"Ti (p)","x":-1.05,"y":0.08},{"s":"Ti (p)","x":-0.9,"y":0},{"s":"Ti (p)","x":1.1,"y":0},{"s":"Ti (p)","x":1.35,"y":0.15},{"s":"Ti (p)","x":1.5,"y":0.05},{"s":"Ti (p)","x":1.85,"y":0.65},{"s":"Ti (p)","x":2.0,"y":0.58},{"s":"Ti (p)","x":2.12,"y":0.67},{"s":"Ti (p)","x":2.4,"y":0.2},{"s":"Ti (p)","x":2.6,"y":0},{"s":"Ti (p)","x":4,"y":0},
{"s":"Ti (d)","x":-4,"y":0.7},{"s":"Ti (d)","x":-3.88,"y":0.85},{"s":"Ti (d)","x":-3.75,"y":0.5},{"s":"Ti (d)","x":-3.6,"y":0.1},{"s":"Ti (d)","x":-3.45,"y":0.05},{"s":"Ti (d)","x":-3.2,"y":0.1},{"s":"Ti (d)","x":-3.05,"y":0.3},{"s":"Ti (d)","x":-2.9,"y":0.05},{"s":"Ti (d)","x":-2.7,"y":0},{"s":"Ti (d)","x":-2.4,"y":0},{"s":"Ti (d)","x":-2.2,"y":0.32},{"s":"Ti (d)","x":-2.0,"y":0.1},{"s":"Ti (d)","x":-1.85,"y":0.15},{"s":"Ti (d)","x":-1.55,"y":0.4},{"s":"Ti (d)","x":-1.4,"y":0.2},{"s":"Ti (d)","x":-1.15,"y":0.82},{"s":"Ti (d)","x":-0.95,"y":0.1},{"s":"Ti (d)","x":-0.8,"y":0},{"s":"Ti (d)","x":0.8,"y":0},{"s":"Ti (d)","x":1.08,"y":1.58},{"s":"Ti (d)","x":1.3,"y":0.3},{"s":"Ti (d)","x":1.45,"y":0.9},{"s":"Ti (d)","x":1.6,"y":1.85},{"s":"Ti (d)","x":1.75,"y":1.9},{"s":"Ti (d)","x":1.95,"y":2.0},{"s":"Ti (d)","x":2.05,"y":1.6},{"s":"Ti (d)","x":2.25,"y":3.8},{"s":"Ti (d)","x":2.45,"y":1.5},{"s":"Ti (d)","x":2.6,"y":0.5},{"s":"Ti (d)","x":2.8,"y":0.6},{"s":"Ti (d)","x":2.95,"y":0.4},{"s":"Ti (d)","x":3.1,"y":1.52},{"s":"Ti (d)","x":3.3,"y":0.5},{"s":"Ti (d)","x":3.5,"y":1.33},{"s":"Ti (d)","x":3.65,"y":0.9},{"s":"Ti (d)","x":3.85,"y":1.27},{"s":"Ti (d)","x":4,"y":1.1},
{"s":"S (s)","x":-4,"y":0.3},{"s":"S (s)","x":-3.8,"y":0.1},{"s":"S (s)","x":-3.6,"y":0},{"s":"S (s)","x":-1.2,"y":0},{"s":"S (s)","x":-1.0,"y":0.05},{"s":"S (s)","x":-0.85,"y":0},{"s":"S (s)","x":2.25,"y":0},{"s":"S (s)","x":2.45,"y":0.2},{"s":"S (s)","x":2.6,"y":0},{"s":"S (s)","x":2.7,"y":0},{"s":"S (s)","x":2.82,"y":0.1},{"s":"S (s)","x":2.95,"y":0},{"s":"S (s)","x":3.4,"y":0},{"s":"S (s)","x":3.55,"y":0.15},{"s":"S (s)","x":3.7,"y":0},{"s":"S (s)","x":4,"y":0},
{"s":"S (p)","x":-4,"y":2.2},{"s":"S (p)","x":-3.85,"y":1.8},{"s":"S (p)","x":-3.65,"y":0.6},{"s":"S (p)","x":-3.45,"y":0.2},{"s":"S (p)","x":-3.2,"y":2.7},{"s":"S (p)","x":-3.02,"y":1.8},{"s":"S (p)","x":-2.9,"y":2.0},{"s":"S (p)","x":-2.75,"y":1.45},{"s":"S (p)","x":-2.62,"y":1.3},{"s":"S (p)","x":-2.45,"y":0.4},{"s":"S (p)","x":-2.35,"y":0.2},{"s":"S (p)","x":-2.2,"y":1.07},{"s":"S (p)","x":-2.0,"y":0.5},{"s":"S (p)","x":-1.75,"y":2.0},{"s":"S (p)","x":-1.6,"y":1.8},{"s":"S (p)","x":-1.3,"y":3.15},{"s":"S (p)","x":-1.1,"y":1.6},{"s":"S (p)","x":-0.95,"y":2.02},{"s":"S (p)","x":-0.8,"y":0.5},{"s":"S (p)","x":-0.65,"y":0},{"s":"S (p)","x":0.9,"y":0},{"s":"S (p)","x":1.1,"y":0.1},{"s":"S (p)","x":1.3,"y":0.3},{"s":"S (p)","x":1.45,"y":0.15},{"s":"S (p)","x":1.85,"y":1.6},{"s":"S (p)","x":2.0,"y":1.05},{"s":"S (p)","x":2.2,"y":1.12},{"s":"S (p)","x":2.45,"y":0.6},{"s":"S (p)","x":2.8,"y":1.8},{"s":"S (p)","x":3.1,"y":0.5},{"s":"S (p)","x":3.5,"y":1.15},{"s":"S (p)","x":3.7,"y":0.45},{"s":"S (p)","x":3.85,"y":0.7},{"s":"S (p)","x":4,"y":0.42},
{"s":"O (s)","x":-4,"y":0},{"s":"O (s)","x":-3.9,"y":0.05},{"s":"O (s)","x":-3.7,"y":0},{"s":"O (s)","x":4,"y":0},
{"s":"O (p)","x":-4,"y":2.0},{"s":"O (p)","x":-3.9,"y":2.85},{"s":"O (p)","x":-3.75,"y":1.5},{"s":"O (p)","x":-3.55,"y":0.2},{"s":"O (p)","x":-3.4,"y":0},{"s":"O (p)","x":-3.1,"y":0},{"s":"O (p)","x":-2.95,"y":0.4},{"s":"O (p)","x":-2.75,"y":0.02},{"s":"O (p)","x":-2.7,"y":0},{"s":"O (p)","x":-2.35,"y":0},{"s":"O (p)","x":-2.2,"y":0.25},{"s":"O (p)","x":-2.02,"y":0.05},{"s":"O (p)","x":-1.85,"y":0.1},{"s":"O (p)","x":-1.6,"y":0.35},{"s":"O (p)","x":-1.45,"y":0.1},{"s":"O (p)","x":-1.25,"y":0.38},{"s":"O (p)","x":-1.1,"y":0.25},{"s":"O (p)","x":-0.92,"y":0.43},{"s":"O (p)","x":-0.75,"y":0.05},{"s":"O (p)","x":-0.7,"y":0},{"s":"O (p)","x":0.9,"y":0},{"s":"O (p)","x":1.1,"y":0.1},{"s":"O (p)","x":1.3,"y":0.05},{"s":"O (p)","x":1.65,"y":0.2},{"s":"O (p)","x":1.9,"y":0.05},{"s":"O (p)","x":2.25,"y":0.5},{"s":"O (p)","x":2.5,"y":0},{"s":"O (p)","x":2.85,"y":0},{"s":"O (p)","x":3.05,"y":0.18},{"s":"O (p)","x":3.25,"y":0.02},{"s":"O (p)","x":3.5,"y":0.15},{"s":"O (p)","x":3.7,"y":0.05},{"s":"O (p)","x":3.9,"y":0.25},{"s":"O (p)","x":4,"y":0.25}
]},
"mark":{"type":"line","interpolate":"monotone","strokeWidth":1.7},
"encoding":{
"x":{"field":"x","type":"quantitative","scale":{"domain":[-4,4],"nice":false},"axis":{"title":"E-Ef [eV]","values":[-4,-3,-2,-1,0,1,2,3,4],"format":"d"}},
"y":{"field":"y","type":"quantitative","scale":{"domain":[0,4],"nice":false},"axis":{"title":"PDOS [number of states/eV]","values":[0,0.5,1,1.5,2,2.5,3,3.5,4],"format":".1f"}},
"color":{"field":"s","type":"nominal","sort":null,"scale":{"domain":["Mo (s)","Mo (p)","Mo (d)","Ti (s)","Ti (p)","Ti (d)","S (s)","S (p)","O (s)","O (p)"],"range":["#2a3c6b","#3cb44b","#f0143c","#111111","#d4ec1c","#68f0cc","#ffa31a","#e08ae8","#a0226e","#7a0c22"]},"legend":{"title":null,"orient":"none","legendX":113,"legendY":1}},
"strokeDash":{"field":"s","type":"nominal","sort":null,"scale":{"domain":["Mo (s)","Mo (p)","Mo (d)","Ti (s)","Ti (p)","Ti (d)","S (s)","S (p)","O (s)","O (p)"],"range":[[1,0],[3,2],[1,0],[1,0],[1,0],[1,0],[3,2],[1,0],[1,0],[1,0]]},"legend":{"title":null,"orient":"none","legendX":113,"legendY":1}}
}},
{"data":{"values":[{"x":0}]},"mark":{"type":"rule","color":"#2ca02c","strokeDash":[4,3],"strokeWidth":1.2},"encoding":{"x":{"field":"x","type":"quantitative","axis":{"title":"E-Ef [eV]","values":[-4,-3,-2,-1,0,1,2,3,4],"format":"d"}}}},
{"data":{"values":[{"x":1.85,"y":3.64,"t":"(d)"}]},"mark":{"type":"text","font":"Liberation Serif","fontWeight":"bold","fontSize":19,"color":"#111"},"encoding":{"x":{"field":"x","type":"quantitative","axis":{"title":"E-Ef [eV]","values":[-4,-3,-2,-1,0,1,2,3,4],"format":"d"}},"y":{"field":"y","type":"quantitative","axis":{"title":"PDOS [number of states/eV]","values":[0,0.5,1,1.5,2,2.5,3,3.5,4],"format":".1f"}},"text":{"field":"t"}}}
]}
]}
]
}
